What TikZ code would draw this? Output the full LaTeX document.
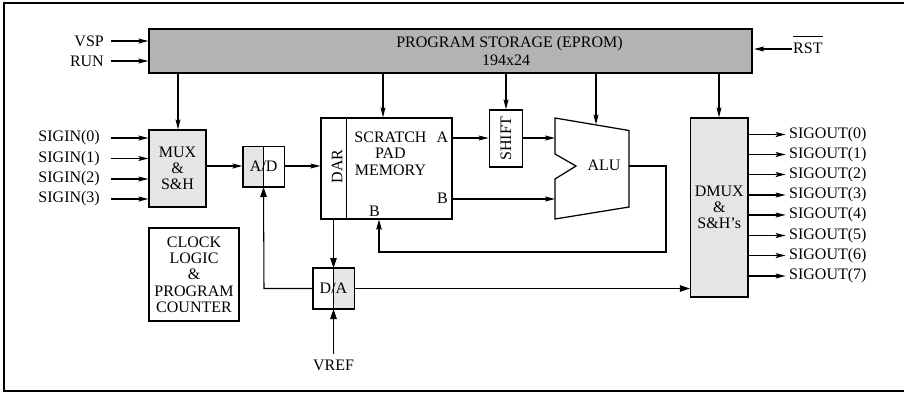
\documentclass[tikz,border=0pt]{standalone}
\usepackage{fontspec}
\setmainfont{Liberation Serif}
\usetikzlibrary{arrows.meta,calc}
\definecolor{darkfill}{HTML}{B3B3B3}
\definecolor{lightfill}{HTML}{E5E5E5}
\tikzset{
  txt/.style={inner sep=0pt,font=\fontsize{16}{16.3}\selectfont,align=center,text=black},
  block/.style={draw=black,line width=1.25pt,inner sep=0pt,font=\fontsize{16}{16.3}\selectfont,align=center},
  arr/.style={line width=1.15pt,-{Stealth[length=10pt,width=5pt,inset=2pt]}},
  bigarr/.style={line width=1.05pt,-{Stealth[length=10pt,width=6.5pt,inset=0pt]}},
  wire/.style={line width=1pt},
}
\newcommand{\blockat}[6][]{\node[block,#1,minimum width=#4 pt,minimum height=#5 pt] (#2) at (#3) {#6};}
\begin{document}
\begin{tikzpicture}[x=1pt,y=-1pt]
\useasboundingbox (0,0) rectangle (904,392);
% frame
\coordinate (ftr) at (904,2.5);
\coordinate (ftl) at (4,2.5);
\coordinate (fbl) at (4,391);
\coordinate (fbr) at (904,391);
\draw[line width=2pt] (ftr) -- (ftl) -- (fbl) -- (fbr);
% blocks
\blockat[fill=darkfill]{store}{450.5,51}{603}{44}{}
\node[txt] (storet) at (509.5,44) {PROGRAM STORAGE (EPROM)};
\node[txt] (storen) at (506,60) {194x24};
\blockat[fill=lightfill]{mux}{177.5,168.5}{57}{77}{MUX\\\&\\S\&H}
\blockat{clock}{194,274.5}{90}{93}{CLOCK\\LOGIC\\\&\\PROGRAM\\COUNTER}
\blockat{mem}{386.5,168.5}{131}{101}{}
\blockat[fill=lightfill]{dmux}{719.25,207.5}{57.5}{179}{DMUX\\\&\\S\&H’s}
\blockat{shift}{506,138.5}{33.5}{57}{\rotatebox{90}{SHIFT}}
% A/D and D/A with half fills
\fill[lightfill] (243,146.5) rectangle (263.5,187);
\fill[lightfill] (333.5,268) rectangle (354.5,309);
\blockat{ad}{263.75,166.75}{41.5}{40.5}{}
\blockat{da}{333.75,288.5}{41.5}{41}{}
\coordinate (adt) at (263.5,146.5);
\coordinate (adb) at (263.5,187);
\coordinate (dat) at (333.5,268);
\coordinate (dab) at (333.5,309);
\draw[wire] (adt) -- (adb);
\draw[wire] (dat) -- (dab);
\node[txt,fill=none] (adl) at (263.75,166.5) {A/D};
\node[txt] (dal) at (333.5,288.5) {D/A};
% memory internals
\coordinate (dart) at (346,118);
\coordinate (darb) at (346,219);
\draw[line width=1pt] (dart) -- (darb);
\node[txt] (dar) at (337,166.5) {\rotatebox{90}{DAR}};
\node[txt] (spm) at (390.5,153.5) {SCRATCH\\PAD\\MEMORY};
\node[txt] (ma) at (442.5,137) {A};
\node[txt] (mb) at (442.5,198) {B};
\node[txt] (mb2) at (374.5,211) {B};
% ALU
\coordinate (a1) at (555,118);
\coordinate (a2) at (629,130.5);
\coordinate (a3) at (629,207);
\coordinate (a4) at (555,219);
\coordinate (a5) at (555,179);
\coordinate (a6) at (576,166);
\coordinate (a7) at (555,154);
\draw[line width=1.25pt,line join=miter] (a1) -- (a2) -- (a3) -- (a4) -- (a5) -- (a6) -- (a7) -- cycle;
\node[txt] (alu) at (604,165.5) {ALU};
% outer labels
\node[txt,anchor=east] (vsp) at (104,41) {VSP};
\node[txt,anchor=east] (run) at (104,61) {RUN};
\node[txt,anchor=west] (rst) at (793,44.7) {\vbox{\hrule height 1pt \kern 5.5pt \hbox{RST}}};
\node[txt,anchor=east] (si0) at (100,138) {SIGIN(0)};
\node[txt,anchor=east] (si1) at (100,158.5) {SIGIN(1)};
\node[txt,anchor=east] (si2) at (100,179) {SIGIN(2)};
\node[txt,anchor=east] (si3) at (100,199) {SIGIN(3)};
\node[txt] (vref) at (333.5,365) {VREF};
\foreach \i/\y in {0/134.5,1/154.5,2/174.5,3/195,4/215,5/235.5,6/255.5,7/276}{
  \node[txt,anchor=west] (so\i) at (789,\y) {SIGOUT(\i)};
  \draw[arr] (dmux.east |- so\i) -- ++(37,0) coordinate (soe\i);
}
% input arrows
\coordinate (vspe) at (111,41);
\coordinate (rune) at (111,61);
\draw[arr] (vspe) -- (vspe -| store.west);
\draw[arr] (rune) -- (rune -| store.west);
\coordinate (rste) at (792,49);
\draw[arr,shorten >=1.5pt] (rste) -- (rste -| store.east);
\foreach \i in {0,1,2,3}{
  \coordinate (sie\i) at (111,0 |- si\i);
  \draw[arr] (sie\i) -- (sie\i -| mux.west);
}
% program storage outputs
\coordinate (p1) at (178,73);
\coordinate (p2) at (383,73);
\coordinate (p3) at (506,73);
\coordinate (p4) at (596,73);
\coordinate (p5) at (719,73);
\coordinate (alutop) at (596,124.5);
\draw[arr] (p1) -- (p1 |- mux.north);
\draw[arr] (p2) -- (p2 |- mem.north);
\draw[arr] (p3) -- (p3 |- shift.north);
\draw[arr] (p4) -- (alutop);
\draw[arr] (p5) -- (p5 |- dmux.north);
% data path
\coordinate (ymid) at (0,166);
\draw[arr] (mux.east |- ymid) -- (ad.west |- ymid);
\draw[arr] (ad.east |- ymid) -- (mem.west |- ymid);
\coordinate (ya) at (0,138);
\draw[arr] (mem.east |- ya) -- (shift.west |- ya);
\draw[arr] (shift.east |- ya) -- (a1 |- ya);
\coordinate (yb) at (0,199);
\draw[arr] (mem.east |- yb) -- (a1 |- yb);
\coordinate (fb1) at (629,166);
\coordinate (fb2) at (666,166);
\coordinate (fb3) at (666,252);
\coordinate (fb4) at (379,252);
\coordinate (fb5) at (379,219.5);
\draw[line width=1.15pt,-{Stealth[length=10pt,width=5.5pt,inset=1pt]}] (fb1) -- (fb2) -- (fb3) -- (fb4) -- (fb5);
\coordinate (memb) at (333.5,219);
\draw[bigarr] (memb) -- (dat);
\coordinate (vrefe) at (333.5,354);
\draw[bigarr] (vrefe) -- (dab);
\coordinate (corner) at (264,288.5);
\draw[bigarr] (da.west) -- (corner) -- (adb);
\draw[bigarr] (da.east) -- (da.east -| dmux.west);
\end{tikzpicture}
\end{document}
